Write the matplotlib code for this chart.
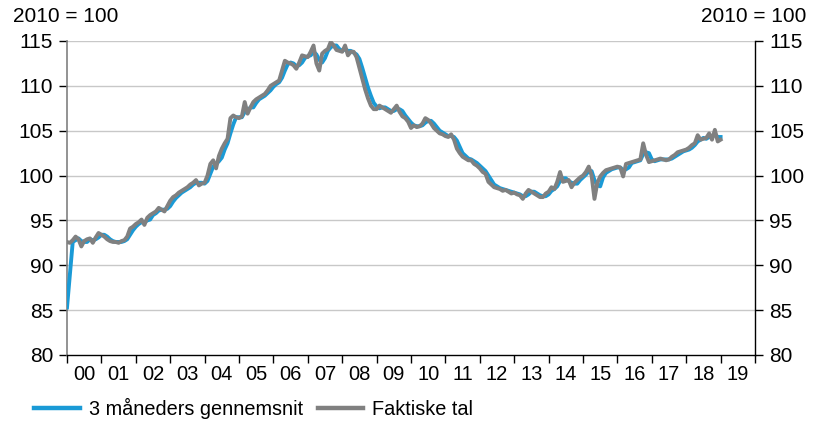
import numpy as np
import pandas as pd
import matplotlib
matplotlib.use('Agg')
import matplotlib.pyplot as plt
from matplotlib.ticker import FixedLocator, NullFormatter

plt.rcParams['font.family'] = ['Liberation Sans', 'DejaVu Sans']

# monthly index, jan 2000 - jan 2019 (2010 = 100)
faktiske = [
    92.6, 92.5, 92.8, 93.2, 92.9, 92.1, 92.7, 92.9, 93.0, 92.5, 93.1, 93.6,   # 2000
    93.4, 93.2, 92.9, 92.7, 92.6, 92.6, 92.5, 92.7, 92.8, 93.2, 94.1, 94.3,   # 2001
    94.6, 94.8, 95.1, 94.5, 95.3, 95.6, 95.8, 96.0, 96.4, 96.2, 96.0, 96.6,   # 2002
    97.2, 97.6, 97.8, 98.1, 98.3, 98.5, 98.7, 99.0, 99.2, 99.5, 98.9, 99.1,   # 2003
    99.2, 100.0, 101.3, 101.7, 100.8, 102.2, 103.0, 103.6, 104.1, 106.4, 106.7, 106.5,  # 2004
    106.4, 106.6, 108.2, 106.9, 107.6, 108.2, 108.5, 108.7, 108.9, 109.1, 109.5, 110.0,  # 2005
    110.2, 110.4, 110.6, 111.7, 112.8, 112.6, 112.5, 112.3, 111.9, 112.6, 113.4, 113.3,  # 2006
    113.2, 113.8, 114.5, 112.5, 111.7, 113.6, 113.9, 114.1, 114.9, 114.5, 114.0, 113.9,  # 2007
    113.8, 114.5, 113.4, 113.8, 113.8, 113.2, 112.0, 110.8, 109.6, 108.6, 107.8, 107.4,  # 2008
    107.4, 107.8, 107.6, 107.4, 107.2, 107.0, 107.4, 107.8, 107.1, 106.6, 106.4, 106.0,  # 2009
    105.3, 105.6, 105.4, 105.5, 105.8, 106.4, 106.2, 105.8, 105.3, 105.0, 104.7, 104.6,  # 2010
    104.4, 104.3, 104.6, 104.0, 103.0, 102.5, 102.1, 101.9, 101.7, 101.7, 101.3, 101.1,  # 2011
    100.8, 100.4, 100.2, 99.3, 99.0, 98.7, 98.6, 98.5, 98.3, 98.4, 98.2, 98.0,   # 2012
    98.1, 97.9, 97.8, 97.4, 98.0, 98.4, 98.2, 98.0, 97.8, 97.6, 97.6, 98.0,   # 2013
    98.2, 98.7, 98.5, 99.3, 100.4, 99.3, 99.4, 99.5, 98.7, 99.2, 99.5, 99.8,  # 2014
    100.0, 100.4, 101.0, 100.0, 97.4, 99.2, 99.9, 100.3, 100.6, 100.7, 100.8, 100.9,  # 2015
    101.0, 100.9, 99.9, 101.3, 101.4, 101.5, 101.6, 101.7, 101.8, 103.6, 102.3, 101.5,  # 2016
    101.6, 101.7, 101.8, 101.9, 101.8, 101.7, 101.8, 102.1, 102.3, 102.6, 102.7, 102.8,  # 2017
    102.9, 103.1, 103.4, 103.6, 104.5, 104.0, 104.1, 104.2, 104.7, 104.0, 105.1, 103.8,  # 2018
    104.0,  # 2019
]

gns_3mdr = [
    85.3, 89.0, 92.6, 92.8, 93.0, 92.7, 92.6, 92.6, 92.9, 92.8, 92.9, 93.1,
    93.4, 93.4, 93.2, 92.9, 92.7, 92.6, 92.6, 92.6, 92.7, 92.9, 93.4, 93.9,
    94.3, 94.6, 94.8, 94.8, 95.0, 95.1, 95.6, 95.8, 96.1, 96.2, 96.2, 96.3,
    96.6, 97.1, 97.5, 97.8, 98.1, 98.3, 98.5, 98.7, 99.0, 99.2, 99.2, 99.2,
    99.1, 99.4, 100.2, 101.0, 101.3, 101.6, 102.0, 102.9, 103.6, 104.7, 105.7, 106.5,
    106.5, 106.5, 107.1, 107.2, 107.6, 107.6, 108.1, 108.5, 108.7, 108.9, 109.2, 109.5,
    109.9, 110.2, 110.4, 110.9, 111.7, 112.4, 112.6, 112.5, 112.2, 112.3, 112.6, 113.1,
    113.3, 113.4, 113.8, 113.5, 112.9, 112.6, 113.1, 113.9, 114.3, 114.5, 114.5, 114.1,
    113.9, 114.1, 113.9, 113.9, 113.7, 113.5, 113.0, 112.0, 110.9, 109.8, 108.9, 108.1,
    107.7, 107.5, 107.6, 107.6, 107.4, 107.2, 107.2, 107.4, 107.4, 107.2, 106.7, 106.3,
    105.9, 105.6, 105.5, 105.5, 105.6, 105.9, 106.1, 106.1, 105.8, 105.4, 105.0, 104.8,
    104.6, 104.4, 104.4, 104.3, 103.9, 103.2, 102.5, 102.2, 101.9, 101.8, 101.6, 101.4,
    101.1, 100.8, 100.5, 100.0, 99.5, 99.0, 98.8, 98.6, 98.5, 98.4, 98.3, 98.2,
    98.1, 98.0, 97.9, 97.7, 97.7, 97.9, 98.2, 98.2, 98.0, 97.8, 97.7, 97.7,
    97.9, 98.3, 98.5, 98.8, 99.4, 99.7, 99.7, 99.4, 99.2, 99.1, 99.1, 99.5,
    99.8, 100.1, 100.5, 100.5, 99.5, 98.9, 98.8, 99.8, 100.3, 100.5, 100.7, 100.8,
    100.9, 100.9, 100.6, 100.7, 100.9, 101.4, 101.5, 101.6, 101.7, 102.4, 102.6, 102.5,
    101.8, 101.6, 101.7, 101.8, 101.8, 101.8, 101.8, 101.9, 102.1, 102.3, 102.5, 102.7,
    102.8, 102.9, 103.1, 103.4, 103.8, 104.0, 104.2, 104.1, 104.3, 104.3, 104.6, 104.3,
    104.3,
]

year_labels = ['00', '01', '02', '03', '04', '05', '06', '07', '08', '09',
               '10', '11', '12', '13', '14', '15', '16', '17', '18', '19']

data = pd.DataFrame({'faktiske': faktiske, 'gns': gns_3mdr})
data['t'] = 2000 + np.arange(len(data)) / 12.0

fig = plt.figure(figsize=(8.16, 4.21), dpi=100)
ax = fig.add_axes([67 / 816, 1 - 355 / 421, (755 - 67) / 816, (355 - 41) / 421])

ax.plot(data['t'], data['gns'], color='#1a9ad6', lw=2.8, label='3 måneders gennemsnit', zorder=3)
ax.plot(data['t'], data['faktiske'], color='#808080', lw=2.8, label='Faktiske tal', zorder=4)

ax.set_xlim(2000, 2020)
ax.set_ylim(80, 115)

# horizontal grid
for v in range(85, 116, 5):
    ax.axhline(v, color='#c8c8c8', lw=1, zorder=1)

ax.set_yticks(range(80, 116, 5))
ax.tick_params(axis='y', which='both', labelsize=15, length=6, width=1,
               direction='out', pad=4, right=True, labelright=True, colors='black')

ax.xaxis.set_major_locator(FixedLocator(np.arange(2000, 2021, 1)))
ax.xaxis.set_major_formatter(NullFormatter())
ax.xaxis.set_minor_locator(FixedLocator(np.arange(2000.5, 2020, 1)))
ax.set_xticklabels(year_labels, minor=True)
ax.tick_params(axis='x', which='major', length=6, width=1, direction='out')
ax.tick_params(axis='x', which='minor', length=0, labelsize=14.5, pad=7)

ax.spines['top'].set_visible(False)
ax.spines['left'].set_color('#808080')
ax.spines['left'].set_linewidth(1.2)
ax.spines['right'].set_linewidth(1)
ax.spines['bottom'].set_linewidth(1)

fig.text(13 / 816, 1 - 17 / 421, '2010 = 100', fontsize=15, va='center', ha='left')
fig.text(806 / 816, 1 - 17 / 421, '2010 = 100', fontsize=15, va='center', ha='right')

leg = fig.legend(loc='center left', bbox_to_anchor=(34 / 816, 1 - 408 / 421), ncol=2,
                 frameon=False, fontsize=14.3, handlelength=2.3, handletextpad=0.45,
                 columnspacing=0.75, borderpad=0, borderaxespad=0)
for h in leg.get_lines():
    h.set_linewidth(3.2)

fig.savefig('out.png', dpi=100)
